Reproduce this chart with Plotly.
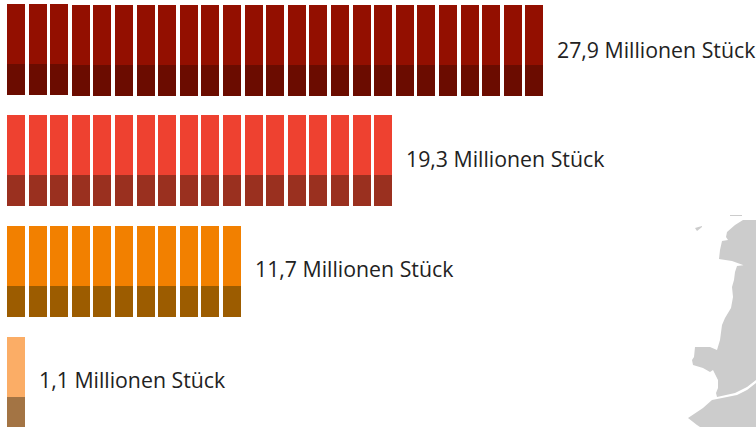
import plotly.graph_objects as go

labels = ["27,9 Millionen Stück", "19,3 Millionen Stück", "11,7 Millionen Stück", "1,1 Millionen Stück"]
block_counts = [25, 18, 11, 1]
row_tops = [5, 115, 226, 337]
upper_heights = [60, 60, 60, 60]
lower_heights = [31, 31, 31, 30]
upper_colors = ["#930F00", "#EE4130", "#F28000", "#FBAD66"]
lower_colors = ["#6B0C00", "#9A301F", "#9C5C00", "#A37444"]
label_y = [49.5, 158.5, 268.5, 379.5]
raised_blocks = [3, 0, 0, 0]  # leading blocks that sit one pixel higher in the reference

# Land silhouette in the lower right
land_x = [756, 743, 735, 727, 726, 728, 722, 720, 719, 732, 743, 747, 747, 749, 749, 745, 737, 735, 734, 732, 733, 731, 725, 722, 720, 717, 710, 695, 694, 692, 693, 703, 710, 713, 718, 718, 716, 717, 735, 747, 756, 756, None,
          756, 747, 737, 720, 712, 703, 695, 688, 697, 700, 756, 756, None,
          695, 702, 702, 697, 695, None,
          730, 742, 742, 730, 730]
land_y = [220, 220, 225, 232, 237, 240, 241, 250, 259, 261, 265, 268, 276, 276, 268, 265, 266, 272, 280, 287, 297, 308, 318, 325, 340, 350, 347, 347, 357, 360, 365, 368, 372, 370, 380, 388, 393, 397, 393, 387, 380, 220, None,
          383, 390, 395, 398, 400, 408, 413, 418, 425, 427, 427, 383, None,
          228, 226, 227, 231, 228, None,
          215, 215, 216, 216, 215]

fig = go.Figure()
fig.add_trace(go.Scatter(x=land_x, y=land_y, xaxis="x2", yaxis="y", mode="lines", line=dict(width=0),
                         fill="toself", fillcolor="#CCCCCC", hoverinfo="skip", showlegend=False))

for i, n in enumerate(block_counts):
    xs = list(range(n))
    tops = [row_tops[i] - (1 if k < raised_blocks[i] else 0) for k in xs]
    fig.add_trace(go.Bar(x=xs, y=[upper_heights[i]] * n, base=tops,
                         marker=dict(color=upper_colors[i], line=dict(width=0)), width=0.83, showlegend=False))
    fig.add_trace(go.Bar(x=xs, y=[lower_heights[i]] * n, base=[t + upper_heights[i] for t in tops],
                         marker=dict(color=lower_colors[i], line=dict(width=0)), width=0.83, showlegend=False))
    fig.add_annotation(x=n - 1, y=label_y[i], text=labels[i], xref="x", yref="y",
                       xanchor="left", yanchor="middle", xshift=21, showarrow=False,
                       font=dict(family="Open Sans", size=21.3, color="#222222"))

fig.update_layout(
    width=756, height=427, autosize=False,
    margin=dict(l=0, r=0, t=0, b=0),
    paper_bgcolor="white", plot_bgcolor="white",
    barmode="overlay", bargap=0,
    xaxis=dict(range=[-16 / 21.6, 740 / 21.6], visible=False, fixedrange=True),
    xaxis2=dict(range=[0, 756], visible=False, overlaying="x", fixedrange=True),
    yaxis=dict(range=[427, 0], visible=False, fixedrange=True),
)
fig.write_html("out.html", config={"displayModeBar": False},
               post_script="document.body.style.margin='0';document.body.style.overflow='hidden';")
